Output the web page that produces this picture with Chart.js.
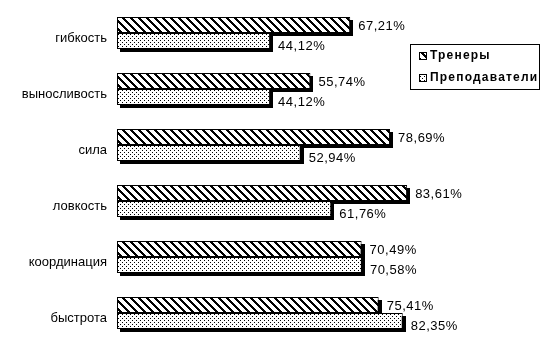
<!DOCTYPE html>
<html>
<head>
<meta charset="utf-8">
<script src="https://cdn.jsdelivr.net/npm/chart.js@4.4.0/dist/chart.umd.min.js"></script>
<style>
  html, body { margin: 0; padding: 0; background: #fff; }
  #wrap { width: 545px; height: 348px; position: relative; }
</style>
</head>
<body>
<div id="wrap"><canvas id="qualities"></canvas></div>
<script>
const categories = ['гибкость', 'выносливость', 'сила', 'ловкость', 'координация', 'быстрота'];
const seriesNames = ['Тренеры', 'Преподаватели'];
const coaches = [67.21, 55.74, 78.69, 83.61, 70.49, 75.41];
const teachers = [44.12, 44.12, 52.94, 61.76, 70.58, 82.35];

const canvas = document.getElementById('qualities');
const mainCtx = canvas.getContext('2d');

// small black/white tiles, built pixel by pixel so they stay crisp
function makePattern(size, isInk) {
    const c = document.createElement('canvas');
    c.width = size;
    c.height = size;
    const g = c.getContext('2d');
    const img = g.createImageData(size, size);
    for (let y = 0; y < size; y++) {
        for (let x = 0; x < size; x++) {
            const i = (y * size + x) * 4;
            const v = isInk(x, y) ? 0 : 255;
            img.data[i] = v;
            img.data[i + 1] = v;
            img.data[i + 2] = v;
            img.data[i + 3] = 255;
        }
    }
    g.putImageData(img, 0, 0);
    return mainCtx.createPattern(c, 'repeat');
}

const hatch = makePattern(8, (x, y) => ((x - y + 16) % 8) < 3);
const dots = makePattern(4, (x, y) => (x === 0 && y === 0) || (x === 2 && y === 2));
const fills = [hatch, dots];

function fmt(v) {
    return v.toFixed(2).replace('.', ',') + '%';
}

// black offset block behind every bar
const barShadow = {
    id: 'barShadow',
    beforeDatasetsDraw(chart) {
        const ctx = chart.ctx;
        ctx.save();
        ctx.fillStyle = '#000';
        chart.data.datasets.forEach((ds, i) => {
            chart.getDatasetMeta(i).data.forEach(bar => {
                const p = bar.getProps(['x', 'y', 'base', 'height'], true);
                ctx.fillRect(Math.round(p.base) + 3, Math.round(p.y - p.height / 2) + 3,
                    Math.round(p.x - p.base), Math.round(p.height));
            });
        });
        ctx.restore();
    }
};

// value labels to the right of each bar
const valueLabels = {
    id: 'valueLabels',
    afterDatasetsDraw(chart) {
        const ctx = chart.ctx;
        ctx.save();
        ctx.font = '13px "Liberation Sans", Arial, sans-serif';
        ctx.letterSpacing = '0.5px';
        ctx.fillStyle = '#000';
        ctx.textBaseline = 'middle';
        ctx.textAlign = 'left';
        const dy = [1, 5];
        chart.data.datasets.forEach((ds, i) => {
            chart.getDatasetMeta(i).data.forEach((bar, j) => {
                const p = bar.getProps(['x', 'y'], true);
                ctx.fillText(fmt(ds.data[j]), p.x + 8, p.y + dy[i]);
            });
        });
        ctx.restore();
    }
};

// boxed legend sitting over the right side of the plot
const boxLegend = {
    id: 'boxLegend',
    afterDraw(chart) {
        const ctx = chart.ctx;
        const left = 410, top = 44, w = 129, h = 45;
        ctx.save();
        ctx.fillStyle = '#fff';
        ctx.fillRect(left, top, w, h);
        ctx.strokeStyle = '#000';
        ctx.lineWidth = 1;
        ctx.strokeRect(left + 0.5, top + 0.5, w, h);
        ctx.font = 'bold 12px "Liberation Sans", Arial, sans-serif';
        ctx.letterSpacing = '1.2px';
        ctx.textBaseline = 'middle';
        chart.data.datasets.forEach((ds, i) => {
            const cy = top + 12 + i * 22;
            ctx.fillStyle = ds.backgroundColor;
            ctx.fillRect(left + 9, cy - 4, 8, 8);
            ctx.strokeRect(left + 9.5, cy - 3.5, 7, 7);
            ctx.fillStyle = '#000';
            ctx.fillText(ds.label, left + 20, cy);
        });
        ctx.restore();
    }
};

new Chart(canvas, {
    type: 'bar',
    data: {
        labels: categories,
        datasets: [
            { label: seriesNames[0], data: coaches, backgroundColor: fills[0] },
            { label: seriesNames[1], data: teachers, backgroundColor: fills[1] }
        ]
    },
    options: {
        indexAxis: 'y',
        responsive: true,
        maintainAspectRatio: false,
        animation: false,
        layout: { padding: { top: 5, bottom: 7, left: 0, right: 81 } },
        datasets: {
            bar: {
                borderColor: '#000',
                borderWidth: 1,
                borderSkipped: false,
                categoryPercentage: 32 / 56,
                barPercentage: 1
            }
        },
        plugins: {
            legend: { display: false },
            tooltip: { enabled: false }
        },
        scales: {
            x: {
                display: false,
                min: 0,
                max: 100
            },
            y: {
                grid: { display: false, drawTicks: false },
                border: { display: false },
                afterFit(scale) {
                    scale.width = 117;
                    scale.paddingTop = 0;
                    scale.paddingBottom = 0;
                },
                ticks: {
                    color: '#000',
                    padding: 10,
                    labelOffset: 5,
                    font: { family: '"Liberation Sans", Arial, sans-serif', size: 13 }
                }
            }
        }
    },
    plugins: [barShadow, valueLabels, boxLegend]
});
</script>
</body>
</html>
